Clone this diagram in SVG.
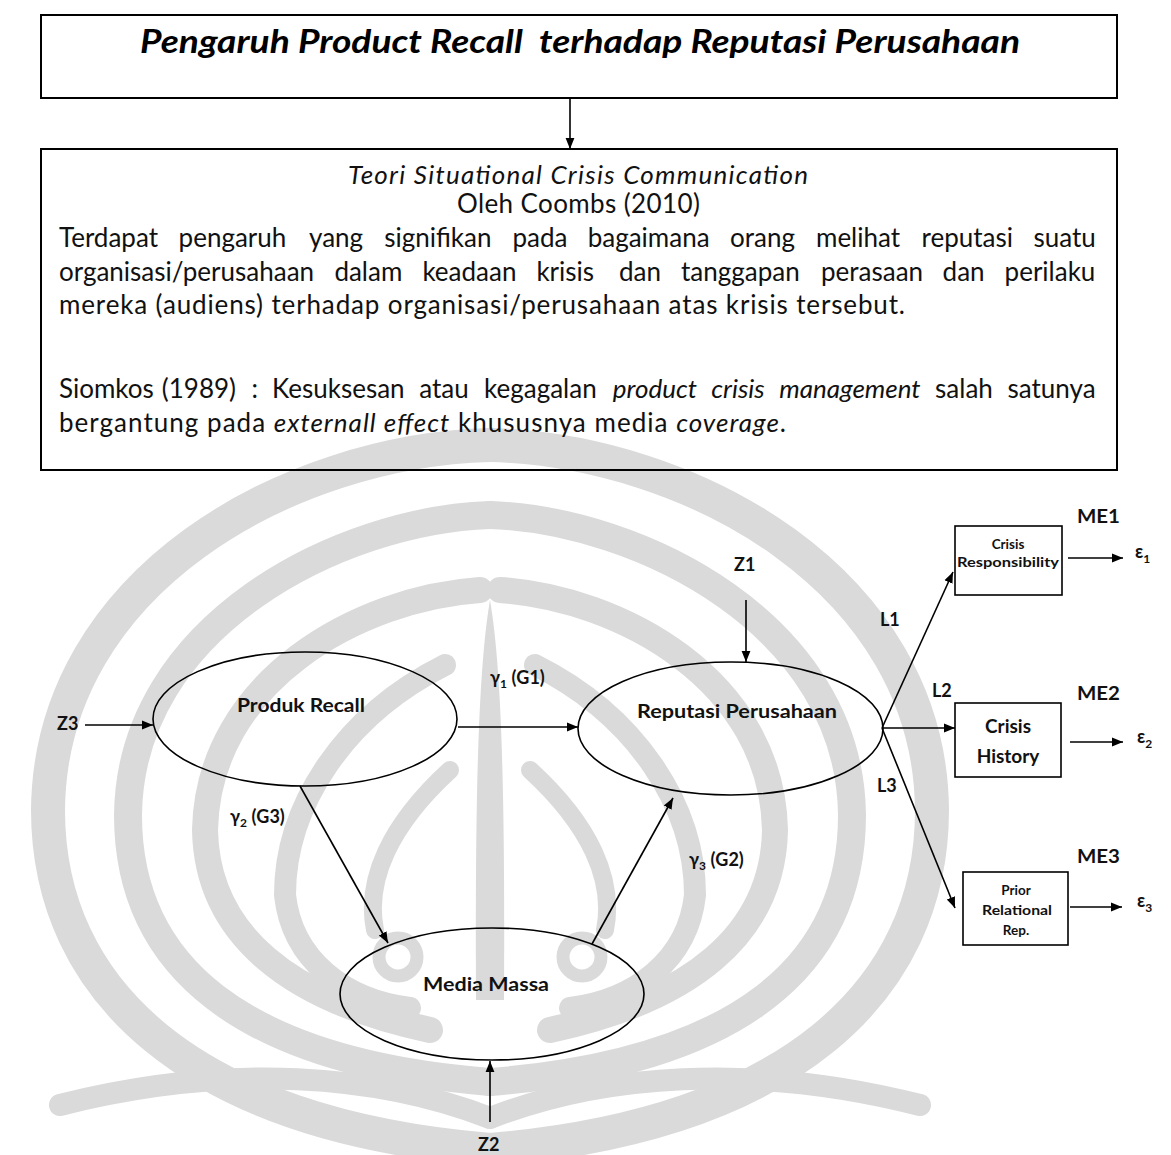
<svg xmlns="http://www.w3.org/2000/svg" width="1171" height="1155" viewBox="0 0 1171 1155">
  <style>
    .frame { fill: none; stroke: #000; stroke-width: 2; }
    .node { fill: none; stroke: #000; stroke-width: 1.6; }
    .edge { fill: none; stroke: #000; stroke-width: 1.6; marker-end: url(#ah); }
    .body { font-family: Lato, "Liberation Sans", sans-serif; font-size: 26px; fill: #111; }
    .it { font-style: italic; }
    .lbl { font-family: Lato, "Liberation Sans", sans-serif; font-weight: bold; fill: #111; }
    .wm { fill: none; stroke: #dadada; stroke-linecap: round; }
  </style>
  <defs>
    <marker id="ah" viewBox="0 0 10 10" refX="10" refY="5" markerWidth="11" markerHeight="11" markerUnits="userSpaceOnUse" orient="auto">
      <path d="M0,1 L10,5 L0,9 z" fill="#000"/>
    </marker>
    <!-- left half of the background emblem; the right half is its mirror -->
    <g id="emblem-half">
      <path class="wm" stroke-width="34" d="M0,445 C-200,450 -440,580 -442,810 C-442,990 -300,1125 0,1150"/>
      <path class="wm" stroke-width="28" d="M0,515 C-150,520 -360,625 -362,815 C-362,965 -250,1062 0,1082"/>
      <path class="wm" stroke-width="26" d="M-10,590 C-130,598 -282,680 -285,830 C-283,935 -200,1000 -60,1030"/>
      <path class="wm" stroke-width="22" d="M-45,665 C-145,715 -205,805 -205,895 C-198,960 -145,1000 -80,1008"/>
      <path class="wm" stroke-width="18" d="M-40,770 C-100,825 -125,880 -115,930"/>
      <circle class="wm" stroke-width="13" cx="-92" cy="957" r="19"/>
      <path class="wm" stroke-width="22" d="M-430,1105 C-260,1062 -110,1075 0,1118"/>
    </g>
  </defs>

  <rect width="1171" height="1155" fill="#fff"/>

  <!-- background emblem -->
  <g id="emblem" transform="translate(490,0)">
    <use href="#emblem-half"/>
    <use href="#emblem-half" transform="scale(-1,1)"/>
    <path d="M0,600 C12,670 15,800 14,1000 L-14,1000 C-15,800 -12,670 0,600 z" fill="#dadada"/>
  </g>

  <!-- title box -->
  <g id="title">
    <rect class="frame" x="41" y="15" width="1076" height="83"/>
    <text x="140" y="53" textLength="880" lengthAdjust="spacingAndGlyphs" style="white-space:pre" font-family="Lato, 'Liberation Sans', sans-serif" font-size="33" font-weight="bold" font-style="italic" fill="#000">Pengaruh Product Recall  terhadap Reputasi Perusahaan</text>
  </g>

  <!-- theory box -->
  <g id="theory">
    <rect class="frame" x="41" y="149" width="1076" height="321"/>
    <text class="body it" x="348" y="184" font-size="24" textLength="460" lengthAdjust="spacing">Teori Situational Crisis Communication</text>
    <text class="body" x="457" y="213" font-size="24" textLength="243" lengthAdjust="spacing">Oleh Coombs (2010)</text>
    <!-- justified lines: each word placed so the gaps are even -->
    <text class="body" y="247">
      <tspan x="59">Terdapat</tspan><tspan x="178.6">pengaruh</tspan><tspan x="309">yang</tspan><tspan x="384.2">signifikan</tspan><tspan x="512.5">pada</tspan><tspan x="587.7">bagaimana</tspan><tspan x="730">orang</tspan><tspan x="816">melihat</tspan><tspan x="921.5">reputasi</tspan><tspan x="1033.5">suatu</tspan>
    </text>
    <text class="body" y="281">
      <tspan x="59">organisasi/perusahaan</tspan><tspan x="334.4">dalam</tspan><tspan x="422.4">keadaan</tspan><tspan x="536.4">krisis</tspan><tspan x="619">dan</tspan><tspan x="681">tanggapan</tspan><tspan x="821">perasaan</tspan><tspan x="942.6">dan</tspan><tspan x="1004.6">perilaku</tspan>
    </text>
    <text class="body" x="59" y="314" textLength="846" lengthAdjust="spacing">mereka (audiens) terhadap organisasi/perusahaan atas krisis tersebut.</text>
    <text class="body" y="398">
      <tspan x="59">Siomkos</tspan><tspan x="161.8">(1989)</tspan><tspan x="251.6">:</tspan><tspan x="272">Kesuksesan</tspan><tspan x="419.2">atau</tspan><tspan x="484">kegagalan</tspan><tspan x="612.8" class="it">product</tspan><tspan x="711.2" class="it">crisis</tspan><tspan x="779.3" class="it">management</tspan><tspan x="935.1">salah</tspan><tspan x="1007.5">satunya</tspan>
    </text>
    <text class="body" x="59" y="432" textLength="727" lengthAdjust="spacing">bergantung pada <tspan class="it">externall effect</tspan> khususnya media <tspan class="it">coverage</tspan>.</text>
  </g>

  <!-- latent constructs -->
  <g id="produk-recall">
    <ellipse class="node" cx="305" cy="719" rx="152" ry="67"/>
    <text class="lbl" x="237" y="712" font-size="19" textLength="128" lengthAdjust="spacingAndGlyphs">Produk Recall</text>
  </g>
  <g id="reputasi-perusahaan">
    <ellipse class="node" cx="730.5" cy="728.5" rx="152.5" ry="66.5"/>
    <text class="lbl" x="637" y="718" font-size="19" textLength="200" lengthAdjust="spacingAndGlyphs">Reputasi Perusahaan</text>
  </g>
  <g id="media-massa">
    <ellipse class="node" cx="492" cy="994" rx="152" ry="66"/>
    <text class="lbl" x="423" y="991" font-size="19" textLength="126" lengthAdjust="spacingAndGlyphs">Media Massa</text>
  </g>

  <!-- indicator boxes -->
  <g id="crisis-responsibility">
    <rect class="node" x="955" y="526" width="107" height="69"/>
    <text class="lbl" x="1008" y="549" font-size="13.5" text-anchor="middle">Crisis</text>
    <text class="lbl" x="957" y="567" font-size="13.5" textLength="102" lengthAdjust="spacingAndGlyphs">Responsibility</text>
  </g>
  <g id="crisis-history">
    <rect class="node" x="955" y="703" width="106" height="74"/>
    <text class="lbl" x="1008" y="733" font-size="19" text-anchor="middle">Crisis</text>
    <text class="lbl" x="1008" y="763" font-size="19" text-anchor="middle">History</text>
  </g>
  <g id="prior-relational">
    <rect class="node" x="963" y="872" width="105" height="73"/>
    <text class="lbl" x="1016" y="895" font-size="13.5" text-anchor="middle">Prior</text>
    <text class="lbl" x="982" y="915" font-size="13.5" textLength="70" lengthAdjust="spacingAndGlyphs">Relational</text>
    <text class="lbl" x="1016" y="935" font-size="13.5" text-anchor="middle">Rep.</text>
  </g>

  <!-- connectors -->
  <g id="connectors">
    <line x1="570" y1="98" x2="570" y2="149" class="edge"/>
    <line x1="85" y1="725" x2="153" y2="725" class="edge"/>
    <line x1="458" y1="727" x2="578" y2="727" class="edge"/>
    <line x1="746" y1="600" x2="746" y2="662" class="edge"/>
    <line x1="300" y1="786" x2="388" y2="943" class="edge"/>
    <line x1="592" y1="944" x2="673" y2="798" class="edge"/>
    <line x1="490" y1="1122" x2="490" y2="1061" class="edge"/>
    <line x1="882" y1="728" x2="953" y2="572" class="edge"/>
    <line x1="882" y1="728" x2="955" y2="728" class="edge"/>
    <line x1="882" y1="728" x2="955" y2="908" class="edge"/>
    <line x1="1068" y1="558" x2="1123" y2="558" class="edge"/>
    <line x1="1070" y1="742" x2="1123" y2="742" class="edge"/>
    <line x1="1070" y1="907" x2="1122" y2="907" class="edge"/>
  </g>

  <!-- path and error labels -->
  <g id="labels" class="lbl" font-size="18">
    <text x="57" y="730">Z3</text>
    <text x="734" y="571">Z1</text>
    <text x="478" y="1151">Z2</text>
    <text x="490" y="684">γ<tspan font-size="12" dy="4">1</tspan><tspan dy="-4"> (G1)</tspan></text>
    <text x="230" y="823">γ<tspan font-size="12" dy="4">2</tspan><tspan dy="-4"> (G3)</tspan></text>
    <text x="689" y="866">γ<tspan font-size="12" dy="4">3</tspan><tspan dy="-4"> (G2)</tspan></text>
    <text x="880" y="626">L1</text>
    <text x="932" y="697">L2</text>
    <text x="877" y="792">L3</text>
    <text x="1077" y="523" textLength="43" lengthAdjust="spacingAndGlyphs">ME1</text>
    <text x="1077" y="700" textLength="43" lengthAdjust="spacingAndGlyphs">ME2</text>
    <text x="1077" y="863" textLength="43" lengthAdjust="spacingAndGlyphs">ME3</text>
    <text x="1135" y="558">ε<tspan font-size="12" dy="5">1</tspan></text>
    <text x="1137" y="743">ε<tspan font-size="12" dy="5">2</tspan></text>
    <text x="1137" y="907">ε<tspan font-size="12" dy="5">3</tspan></text>
  </g>
</svg>
